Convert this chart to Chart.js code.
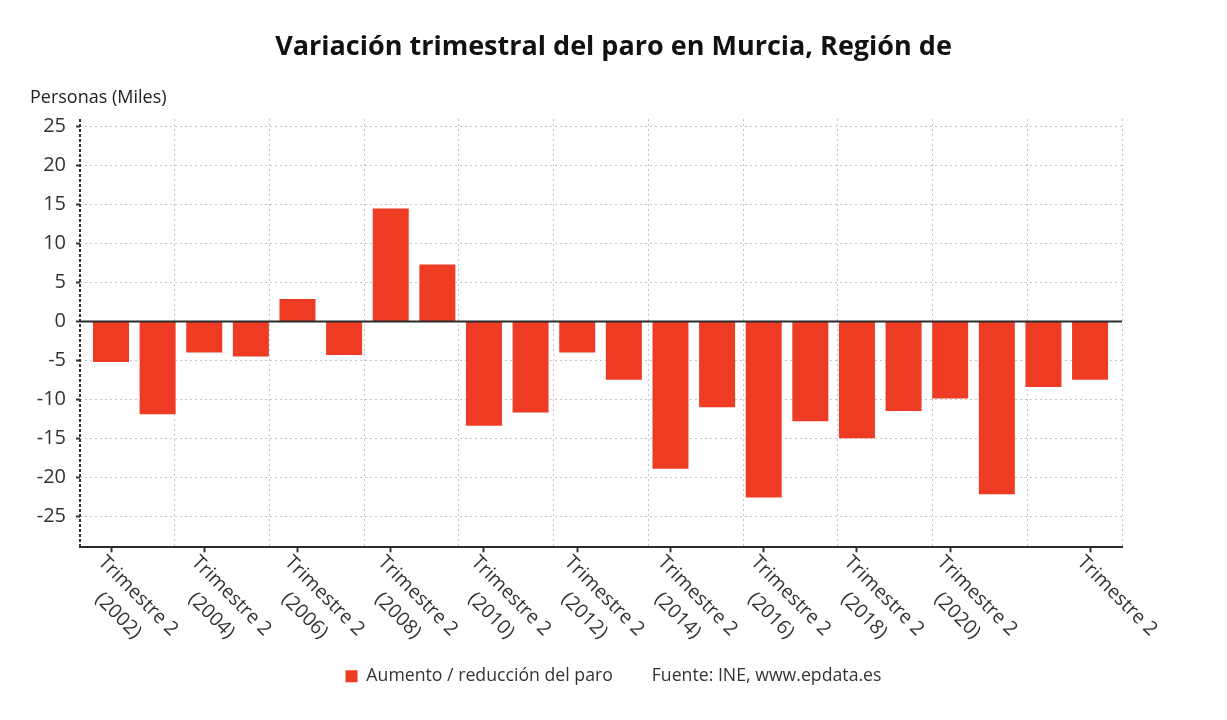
<!DOCTYPE html>
<html>
<head>
<meta charset="utf-8">
<script src="https://cdn.jsdelivr.net/npm/chart.js@4.4.1/dist/chart.umd.min.js"></script>
<style>
  html, body { margin: 0; padding: 0; background: #fff; }
  #wrap { position: relative; width: 1227px; height: 720px; }
  #yunit { position: absolute; left: 30px; top: 84px; font: 18px "Open Sans", sans-serif; color: #222; }
</style>
</head>
<body>
<div id="wrap">
  <canvas id="c" width="1227" height="720"></canvas>
  <div id="yunit">Personas (Miles)</div>
</div>
<script>
// ---- data ----
const titleText = "Variación trimestral del paro en Murcia, Región de";
const seriesName = "Aumento / reducción del paro";
const sourceText = "Fuente: INE, www.epdata.es";
const categories = ["Trimestre 2 (2002)","Trimestre 2 (2003)","Trimestre 2 (2004)","Trimestre 2 (2005)",
  "Trimestre 2 (2006)","Trimestre 2 (2007)","Trimestre 2 (2008)","Trimestre 2 (2009)",
  "Trimestre 2 (2010)","Trimestre 2 (2011)","Trimestre 2 (2012)","Trimestre 2 (2013)",
  "Trimestre 2 (2014)","Trimestre 2 (2015)","Trimestre 2 (2016)","Trimestre 2 (2017)",
  "Trimestre 2 (2018)","Trimestre 2 (2019)","Trimestre 2 (2020)","Trimestre 2 (2021)",
  "Trimestre 2 (2022)","Trimestre 2 (2023)"];
const values = [-5.2, -11.9, -4.0, -4.5, 2.9, -4.3, 14.5, 7.3, -13.4, -11.7, -4.0, -7.5,
  -18.9, -11.0, -22.6, -12.8, -15.0, -11.5, -9.9, -22.2, -8.4, -7.5];
const tickIndices = [0, 2, 4, 6, 8, 10, 12, 14, 16, 18, 21];
const tickLabels = [["Trimestre 2","(2002)"],["Trimestre 2","(2004)"],["Trimestre 2","(2006)"],
  ["Trimestre 2","(2008)"],["Trimestre 2","(2010)"],["Trimestre 2","(2012)"],["Trimestre 2","(2014)"],
  ["Trimestre 2","(2016)"],["Trimestre 2","(2018)"],["Trimestre 2","(2020)"],["Trimestre 2"]];
const yTicks = [-25, -20, -15, -10, -5, 0, 5, 10, 15, 20, 25];

const barColor = '#ee3b24';
const FONT = '"Open Sans", sans-serif';

const points = values.map((v, i) => ({ x: i, y: v }));

const decor = {
  id: 'decor',
  afterDatasetsDraw(chart) {
    const { ctx, chartArea } = chart;
    const ys = chart.scales.y, xs = chart.scales.x;
    ctx.save();
    // zero line
    const y0 = ys.getPixelForValue(0);
    ctx.strokeStyle = '#2a2a2a'; ctx.lineWidth = 2; ctx.setLineDash([]);
    ctx.beginPath(); ctx.moveTo(chartArea.left, y0); ctx.lineTo(chartArea.right, y0); ctx.stroke();
    // dotted y axis line
    ctx.setLineDash([3, 2]);
    ctx.strokeStyle = '#333'; ctx.lineWidth = 2;
    ctx.beginPath(); ctx.moveTo(chartArea.left, chartArea.top); ctx.lineTo(chartArea.left, chartArea.bottom); ctx.stroke();
    ctx.setLineDash([]);
    // x tick labels, rotated 45deg clockwise
    ctx.font = '19.5px ' + FONT; ctx.fillStyle = '#333';
    ctx.textBaseline = 'top';
    xs.ticks.forEach((t, i) => {
      const lines = tickLabels[i];
      if (!lines) return;
      const px = xs.getPixelForValue(t.value);
      ctx.save();
      ctx.translate(px - 3, chartArea.bottom + 5);
      ctx.rotate(Math.PI / 4);
      ctx.textAlign = 'left';
      const w1 = ctx.measureText(lines[0]).width;
      ctx.fillText(lines[0], 0, 0);
      if (lines[1]) { ctx.textAlign = 'center'; ctx.fillText(lines[1], w1 / 2, 28); }
      ctx.restore();
    });
    ctx.restore();
  }
};

new Chart(document.getElementById('c'), {
  type: 'bar',
  data: {
    datasets: [{
      label: seriesName,
      data: points,
      xAxisID: 'x',
      yAxisID: 'y',
      backgroundColor: barColor,
      borderWidth: 0,
      barPercentage: 0.772,
      categoryPercentage: 1.0
    }]
  },
  options: {
    responsive: false,
    animation: false,
    layout: { padding: { left: 0, right: 0, top: 0, bottom: 25 } },
    scales: {
      x: {
        type: 'linear',
        position: 'bottom',
        offset: false,
        min: -0.665, max: 21.685,
        afterBuildTicks: (s) => { s.ticks = tickIndices.map(v => ({ value: v })); },
        afterFit: (s) => { s.height = 102; },
        ticks: { display: false },
        grid: { offset: false, drawOnChartArea: false, drawTicks: true, tickLength: 5, tickColor: '#333', tickWidth: 2 },
        border: { display: true, color: '#2a2a2a', width: 2 }
      },
      xg: {
        type: 'linear',
        position: 'bottom',
        offset: false,
        min: 0, max: 11,
        afterBuildTicks: (s) => { s.ticks = Array.from({ length: 12 }, (_, k) => ({ value: k })); },
        afterFit: (s) => { s.height = 0; },
        ticks: { display: false },
        grid: { offset: false, drawOnChartArea: true, drawTicks: false, color: '#c4c4c4', lineWidth: 1 },
        border: { display: false, dash: [2, 3] }
      },
      y: {
        position: 'left',
        min: -29, max: 26,
        afterBuildTicks: (s) => { s.ticks = yTicks.map(v => ({ value: v })); },
        afterFit: (s) => { s.width = 80; },
        ticks: { font: { size: 20, family: FONT }, color: '#333', padding: 10 },
        grid: {
          color: (c) => (c.tick && c.tick.value === 0) ? 'rgba(0,0,0,0)' : '#c4c4c4',
          lineWidth: 1, tickLength: 4, tickColor: '#333', tickWidth: 2
        },
        border: { display: false, dash: [2, 3] }
      },
      yr: {
        position: 'right',
        min: 0, max: 1,
        afterFit: (s) => { s.width = 105; },
        ticks: { display: false },
        grid: { display: false, drawTicks: false },
        border: { display: false }
      }
    },
    plugins: {
      title: {
        display: true, text: titleText, color: '#111',
        font: { size: 27, weight: 'bold', family: FONT },
        padding: { top: 31, bottom: 55.6 }
      },
      legend: {
        display: true, position: 'bottom',
        onClick: () => {},
        labels: {
          font: { size: 17.7, family: FONT }, color: '#333',
          boxWidth: 12, boxHeight: 12, padding: 18,
          generateLabels: (chart) => {
            const items = Chart.defaults.plugins.legend.labels.generateLabels(chart);
            items.forEach(it => { it.lineWidth = 0; });
            items.push({ text: sourceText, fillStyle: 'rgba(0,0,0,0)', strokeStyle: 'rgba(0,0,0,0)',
              lineWidth: 0, hidden: false, datasetIndex: 99, fontColor: '#333' });
            return items;
          }
        }
      },
      tooltip: { enabled: false }
    }
  },
  plugins: [decor]
});
</script>
</body>
</html>
